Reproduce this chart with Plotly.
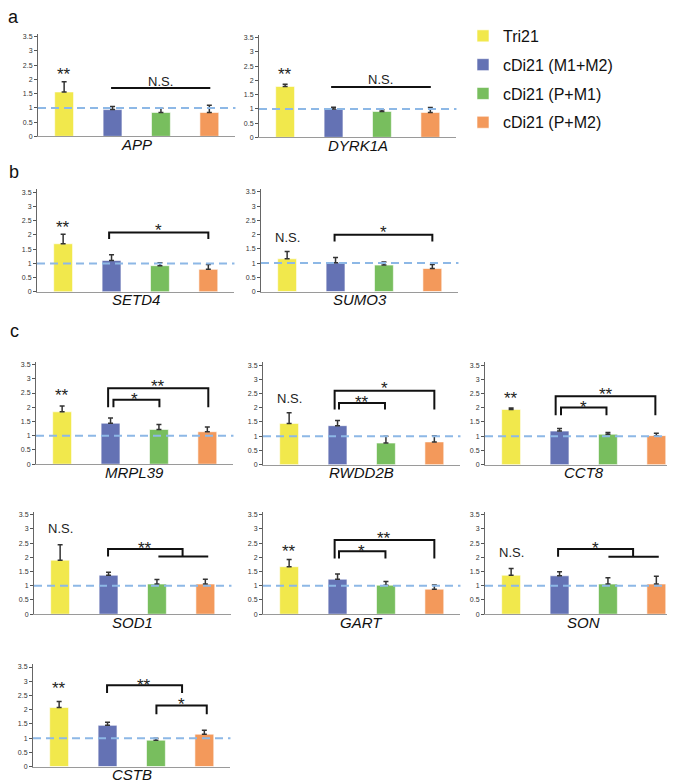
import plotly.graph_objects as go

# ---------------- data ----------------
genes = ["APP", "DYRK1A", "SETD4", "SUMO3", "MRPL39", "RWDD2B", "CCT8",
         "SOD1", "GART", "SON", "CSTB"]
series_names = ["Tri21", "cDi21 (M1+M2)", "cDi21 (P+M1)", "cDi21 (P+M2)"]

tri21 = [1.56, 1.79, 1.69, 1.15, 1.84, 1.45, 1.94, 1.90, 1.67, 1.37, 2.08]
tri21_err = [0.36, 0.08, 0.33, 0.26, 0.20, 0.37, 0.05, 0.54, 0.25, 0.24, 0.21]
m1m2 = [0.94, 1.00, 1.10, 1.01, 1.44, 1.37, 1.18, 1.37, 1.23, 1.35, 1.45]
m1m2_err = [0.11, 0.06, 0.20, 0.19, 0.18, 0.18, 0.09, 0.10, 0.18, 0.14, 0.11]
pm1 = [0.84, 0.91, 0.92, 0.93, 1.22, 0.76, 1.07, 1.06, 1.02, 1.06, 0.93]
pm1_err = [0.15, 0.06, 0.10, 0.11, 0.17, 0.24, 0.06, 0.16, 0.13, 0.22, 0.07]
pm2 = [0.84, 0.875, 0.79, 0.81, 1.14, 0.80, 1.02, 1.06, 0.88, 1.06, 1.14]
pm2_err = [0.25, 0.175, 0.17, 0.14, 0.17, 0.22, 0.08, 0.17, 0.15, 0.27, 0.14]

# significance of Tri21 vs control
tri_label = ["**", "**", "**", "N.S.", "**", "N.S.", "**", "N.S.", "**", "N.S.", "**"]
tri_label_y = [2.34, 2.37, 2.44, 1.90, 2.60, 2.33, 2.50, 3.00, 2.39, 2.17, 2.92]

# comparison brackets among cDi21 clones: (x_left, x_right, y_top, y_leg)
brackets = {
    "APP":    [(0.97, 3.02, 1.70, 1.70)],
    "DYRK1A": [(0.95, 3.01, 1.77, 1.77)],
    "SETD4":  [(0.95, 3.00, 2.09, 1.86)],
    "SUMO3":  [(0.98, 3.00, 2.00, 1.76)],
    "MRPL39": [(0.95, 3.02, 2.67, 2.00), (1.06, 2.01, 2.26, 2.00)],
    "RWDD2B": [(0.94, 3.00, 2.60, 1.94), (1.03, 1.98, 2.17, 1.94)],
    "CCT8":   [(0.92, 2.98, 2.40, 1.74), (1.03, 1.97, 2.01, 1.74)],
    "SOD1":   [(0.99, 2.53, 2.29, 2.03), (2.03, 3.06, 2.03, 2.03)],
    "GART":   [(0.94, 3.00, 2.61, 1.96), (1.03, 1.99, 2.21, 1.96)],
    "SON":    [(0.97, 2.52, 2.29, 2.02), (2.01, 3.05, 2.02, 2.02)],
    "CSTB":   [(0.99, 2.54, 2.86, 2.59), (2.01, 3.05, 2.15, 1.84)],
}
# labels: (text, x, y)
bracket_labels = {
    "APP":    [("N.S.", 2.0, 1.94)],
    "DYRK1A": [("N.S.", 1.98, 2.04)],
    "SETD4":  [("*", 1.98, 2.34)],
    "SUMO3":  [("*", 1.99, 2.26)],
    "MRPL39": [("**", 1.98, 2.89), ("*", 1.5, 2.45)],
    "RWDD2B": [("*", 1.97, 2.86), ("**", 1.5, 2.35)],
    "CCT8":   [("**", 1.95, 2.64), ("*", 1.5, 2.17)],
    "SOD1":   [("**", 1.76, 2.50)],
    "GART":   [("**", 1.97, 2.82), ("*", 1.5, 2.39)],
    "SON":    [("*", 1.74, 2.50)],
    "CSTB":   [("**", 1.76, 3.03), ("*", 2.53, 2.37)],
}
baseline = 1.0
ytick_vals = [0, 0.5, 1, 1.5, 2, 2.5, 3, 3.5]

# ---------------- styling / layout ----------------
W, H = 675, 782
colors = ["#F1E84C", "#6472B4", "#78BE5E", "#F3995B"]
# panel placement in px: (y-axis x position, x-axis y position)
panel_pos = [(30, 128), (251, 129), (29, 284.3), (253, 284), (28, 457.5),
             (255, 458), (477, 458), (26, 608.3), (255, 608.3), (477, 608.3),
             (25, 761.5)]
UNIT = 28.6      # px per y unit
YMAX = 3.6
XR = [-0.54, 3.54]
CAT_PX = 48.4
PANEL_W = (XR[1] - XR[0]) * CAT_PX
FONT = "Arial, Liberation Sans, sans-serif"

series_vals = [tri21, m1m2, pm1, pm2]
series_errs = [tri21_err, m1m2_err, pm1_err, pm2_err]


def sig_font(txt):
    if "*" in txt:
        return dict(size=17, color="#222", family=FONT), -5
    return dict(size=13, color="#222", family=FONT), 0


fig = go.Figure()
layout = {}
shapes = []
annotations = []

for i, g in enumerate(genes):
    n = i + 1
    xa = "x" if n == 1 else f"x{n}"
    ya = "y" if n == 1 else f"y{n}"
    sfx = "" if n == 1 else str(n)
    left, y0 = panel_pos[i]
    layout["xaxis" + sfx] = dict(
        domain=[left / W, min(1.0, (left + PANEL_W) / W)], anchor=ya, range=XR,
        showline=True, linecolor="#9a9a9a", linewidth=1, showticklabels=False,
        ticks="", showgrid=False, zeroline=False, fixedrange=True)
    layout["yaxis" + sfx] = dict(
        domain=[1 - y0 / H, 1 - (y0 - YMAX * UNIT) / H], anchor=xa,
        range=[0, YMAX], tickvals=ytick_vals, ticks="outside", ticklen=3,
        tickwidth=1, tickcolor="#555", showline=True, linecolor="#666",
        linewidth=1, tickfont=dict(size=7, color="#333", family=FONT),
        showgrid=False, zeroline=False, fixedrange=True)

    for s in range(4):
        fig.add_trace(go.Bar(
            x=[s], y=[series_vals[s][i]], width=0.39,
            marker=dict(color=colors[s], line=dict(color="rgba(255,255,255,0.6)", width=1)),
            error_y=dict(type="data", array=[series_errs[s][i]], arrayminus=[0],
                         symmetric=False, color="#333", thickness=1.5, width=2.5),
            name=series_names[s], legendgroup=series_names[s],
            showlegend=(i == 0), xaxis=xa, yaxis=ya))

    # dashed reference line
    shapes.append(dict(type="line", xref=f"{xa} domain", yref=ya, x0=0, x1=1,
                       y0=baseline, y1=baseline,
                       line=dict(color="#8DB8E6", width=2, dash="8px,5px"), layer="above"))

    # brackets
    for (xl, xr, yt, yl) in brackets[g]:
        if yt == yl:
            path = f"M{xl},{yt} L{xr},{yt}"
        else:
            path = f"M{xl},{yl} L{xl},{yt} L{xr},{yt} L{xr},{yl}"
        shapes.append(dict(type="path", xref=xa, yref=ya, path=path,
                           line=dict(color="#111", width=2)))
    for (txt, lx, ly) in bracket_labels[g]:
        f, sh = sig_font(txt)
        annotations.append(dict(text=txt, x=lx, y=ly, xref=xa, yref=ya,
                                showarrow=False, yanchor="middle", yshift=sh, font=f))
    # Tri21 label
    f, sh = sig_font(tri_label[i])
    annotations.append(dict(text=tri_label[i], x=0, y=tri_label_y[i], xref=xa, yref=ya,
                            showarrow=False, yanchor="middle", yshift=sh, font=f))
    # gene name
    annotations.append(dict(text=f"<i>{g}</i>", x=1.5, y=0, xref=xa, yref=ya,
                            yshift=-8, showarrow=False, yanchor="middle",
                            font=dict(size=15, color="#111", family=FONT)))

for letter, (lx, ly) in zip(["a", "b", "c"], [(5, 8), (6, 164), (6, 324)]):
    annotations.append(dict(text=letter, x=lx / W, y=1 - ly / H, xref="paper",
                            yref="paper", showarrow=False, xanchor="center",
                            yanchor="middle", font=dict(size=18, color="#111", family=FONT)))

fig.update_layout(
    width=W, height=H, margin=dict(l=0, r=0, t=0, b=0),
    paper_bgcolor="white", plot_bgcolor="white", barmode="overlay",
    shapes=shapes, annotations=annotations,
    legend=dict(x=455 / W, y=1 - 10 / H, xanchor="left", yanchor="top",
                font=dict(size=16, color="#111", family=FONT),
                tracegroupgap=5, bgcolor="rgba(0,0,0,0)"),
    **layout)

fig.write_html("out.html")
